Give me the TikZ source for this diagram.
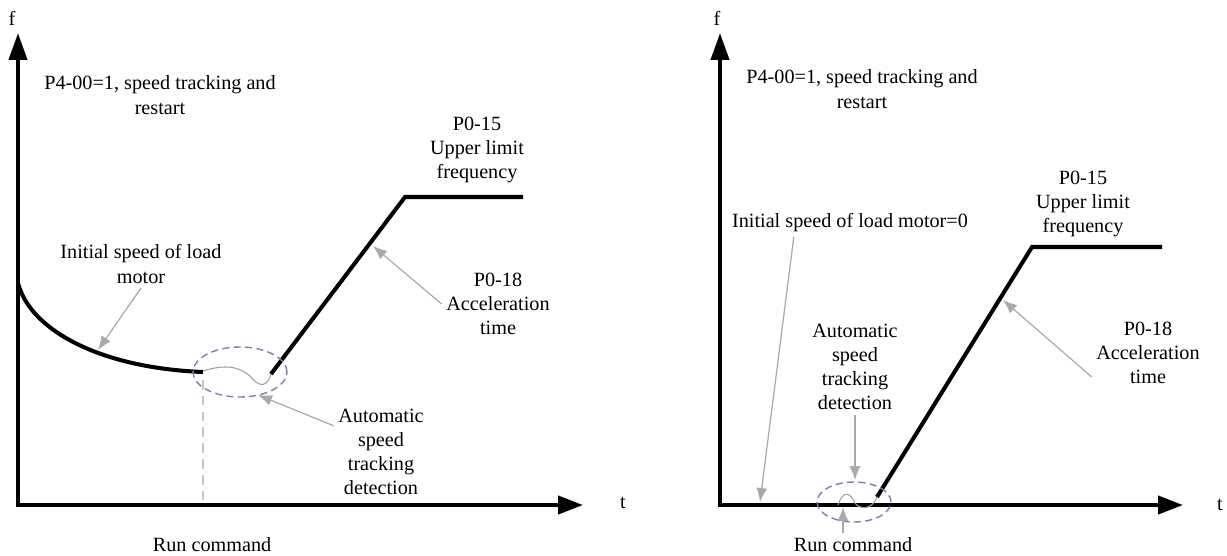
\documentclass[tikz,border=0pt]{standalone}
\usepackage{fontspec}
\setmainfont{Liberation Serif}
\usetikzlibrary{arrows.meta,positioning}
\definecolor{trackpurple}{RGB}{140,120,175}
\definecolor{pointergray}{RGB}{170,170,170}
\tikzset{
  axisline/.style={line width=2.3pt,line join=miter,
    arrows={Triangle[length=5.4mm,width=3.6mm]-Triangle[length=5mm,width=3.6mm]}},
  speedline/.style={line width=2.3pt,line join=miter},
  wiggle/.style={draw=gray!75,line width=0.6pt},
  trackring/.style={draw=trackpurple,line width=0.8pt,dash pattern=on 4pt off 2.5pt},
  runline/.style={draw=gray!45,line width=0.8pt,dash pattern=on 5.5pt off 3.5pt},
  pointer/.style={draw=pointergray,line width=0.7pt,-{Latex[length=2.8mm,width=2.2mm]}},
  note/.style={font=\fontsize{11.5}{13.8}\selectfont,align=center,inner sep=2.5pt},
}

\begin{document}
\begin{tikzpicture}[x=0.02cm,y=-0.02cm]
        \useasboundingbox (0,0) rectangle (1227,555);
        % left: load motor still turning
        \coordinate (fL) at (18,33);
        \coordinate (oL) at (18,505);
        \coordinate (tL) at (583,505);
        \draw[axisline] (fL) -- (oL) -- (tL);
        \node[note] (fLabelL) at (12,18) {f};
        \node[note] (tLabelL) at (623,503) {t};
        \node[note] (modeL) at (160,95) {P4-00=1, speed tracking and\\restart};
        \draw[speedline] (18,283) .. controls (30,330) and (100,368) .. (203,372);
        \draw[wiggle] (203,371) .. controls (225,364) and (240,366) .. (252,378)
          .. controls (260,388) and (268,386) .. (271,374);
        \draw[speedline] (271,374) -- (405,197) -- (523,197);
        \draw[trackring] (240,372) ellipse [x radius=0.94cm,y radius=0.5cm];
        \draw[runline] (203,380) -- (203,505);
        \node[note] (initL) at (141,264) {Initial speed of load\\motor};
        \node[note] (autoL) at (381,452) {Automatic\\speed\\tracking\\detection};
        \node[note] (upL) at (477,150) {P0-15\\Upper limit\\frequency};
        \node[note] (accL) at (498,304) {P0-18\\Acceleration\\time};
        \node[note] (runL) at (212,545) {Run command};
        \coordinate (initTipL) at (98,350);
        \coordinate (autoTipL) at (258,395);
        \coordinate (accTipL) at (373,246);
        \draw[pointer] (initL.south) -- (initTipL);
        \draw[pointer] (autoL.151) -- (autoTipL);
        \draw[pointer] (accL.west) -- (accTipL);
        % right: load motor at rest
        \coordinate (fR) at (720,33);
        \coordinate (oR) at (720,505);
        \coordinate (tR) at (1183,505);
        \draw[axisline] (fR) -- (oR) -- (tR);
        \node[note] (fLabelR) at (717,18) {f};
        \node[note] (tLabelR) at (1220,505) {t};
        \node[note] (modeR) at (862,89) {P4-00=1, speed tracking and\\restart};
        \draw[wiggle] (838,505) .. controls (843,490) and (850,492) .. (855,503)
          .. controls (860,510) and (872,510) .. (877,497);
        \draw[speedline] (877,497) -- (1032,247) -- (1162,247);
        \draw[trackring] (854,502) ellipse [x radius=0.74cm,y radius=0.4cm];
        \node[note] (initR) at (850,223) {Initial speed of load motor=0};
        \node[note] (autoR) at (855,367) {Automatic\\speed\\tracking\\detection};
        \node[note] (upR) at (1083,204) {P0-15\\Upper limit\\frequency};
        \node[note] (accR) at (1148,353) {P0-18\\Acceleration\\time};
        \node[note] (runR) at (853,545) {Run command};
        \coordinate (initTipR) at (760,502);
        \coordinate (autoTipR) at (855,480);
        \coordinate (accTipR) at (1003,300);
        \coordinate (runTipR) at (843,507);
        \draw[pointer] (initR.194) -- (initTipR);
        \draw[pointer] (autoR.south) -- (autoTipR);
        \draw[pointer] (accR.203) -- (accTipR);
        \draw[pointer] (runR.north -| runTipR) -- (runTipR);
      \end{tikzpicture}
\end{document}
